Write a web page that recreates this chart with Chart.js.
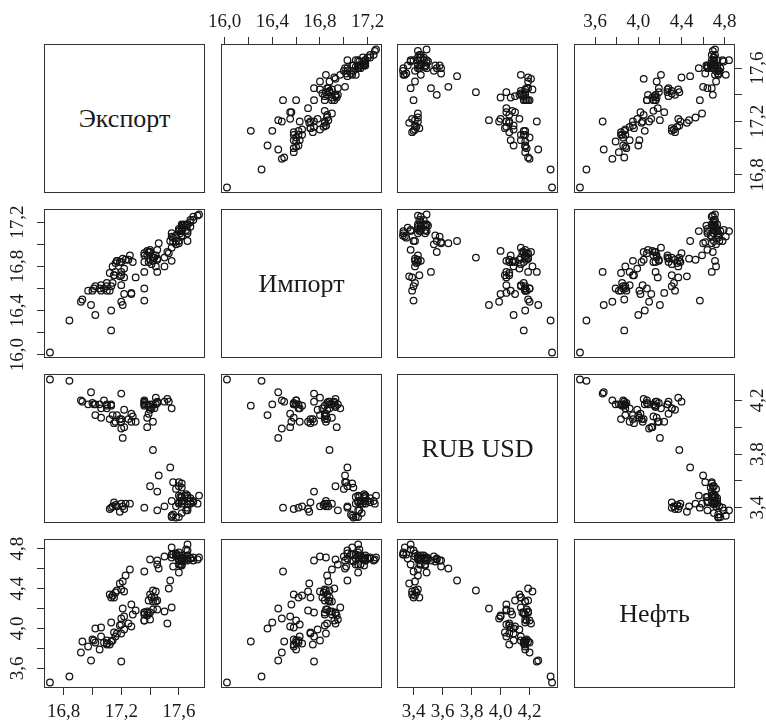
<!DOCTYPE html>
<html>
<head>
<meta charset="utf-8">
<script src="https://cdn.jsdelivr.net/npm/chart.js@4.4.1/dist/chart.umd.min.js"></script>
<style>
  html, body { margin: 0; padding: 0; background: #fff; overflow: hidden; }
  #wrap { position: relative; width: 766px; height: 720px; overflow: hidden; background: #fff; }
  #wrap canvas { position: absolute; }
  .diag {
    position: absolute; box-sizing: border-box; border: 1px solid #333;
    display: flex; align-items: center; justify-content: center;
    font: 26px "Liberation Serif", "Times New Roman", serif; color: #1a1a1a;
  }
</style>
</head>
<body>
<div id="wrap"></div>
<script>
// Variable names shown on the diagonal
const varNames = ['Экспорт', 'Импорт', 'RUB USD', 'Нефть'];

// Monthly observations, 2010–2019 (log values), twelve per line
const exportLog = [
  17.12, 17.13, 17.22, 17.19, 17.14, 17.15, 17.16, 17.17, 17.20, 17.21, 17.23, 17.26,
  17.36, 17.45, 17.56, 17.55, 17.58, 17.55, 17.60, 17.62, 17.60, 17.63, 17.62, 17.70,
  17.55, 17.66, 17.66, 17.65, 17.68, 17.60, 17.62, 17.66, 17.62, 17.70, 17.68, 17.73,
  17.50, 17.58, 17.66, 17.62, 17.60, 17.61, 17.64, 17.65, 17.62, 17.68, 17.66, 17.74,
  17.45, 17.40, 17.60, 17.62, 17.60, 17.58, 17.62, 17.56, 17.46, 17.54, 17.42, 17.38,
  17.13, 17.13, 17.27, 17.20, 17.21, 17.22, 17.20, 17.10, 17.08, 17.10, 17.05, 17.20,
  16.705, 16.84, 16.99, 16.92, 16.93, 17.00, 16.97, 17.02, 17.01, 17.06, 17.10, 17.22,
  17.02, 17.06, 17.20, 17.15, 17.16, 17.12, 17.14, 17.17, 17.19, 17.25, 17.28, 17.38,
  17.27, 17.30, 17.42, 17.39, 17.40, 17.41, 17.43, 17.45, 17.44, 17.53, 17.50, 17.52,
  17.36, 17.36, 17.45, 17.44, 17.42, 17.36, 17.40, 17.36, 17.36, 17.40, 17.39, 17.55
];
const importLog = [
  16.58, 16.62, 16.70, 16.71, 16.65, 16.72, 16.83, 16.85, 16.84, 16.87, 16.86, 16.90,
  16.49, 16.95, 17.06, 17.07, 17.08, 17.10, 17.12, 17.15, 17.14, 17.17, 17.18, 17.25,
  16.85, 17.03, 17.12, 17.13, 17.16, 17.12, 17.17, 17.18, 17.12, 17.22, 17.20, 17.26,
  16.80, 17.03, 17.10, 17.14, 17.12, 17.10, 17.18, 17.17, 17.13, 17.22, 17.18, 17.27,
  16.75, 16.93, 17.01, 17.07, 17.03, 17.00, 17.08, 17.02, 17.01, 17.03, 16.88, 16.94,
  16.22, 16.40, 16.55, 16.48, 16.45, 16.55, 16.63, 16.58, 16.60, 16.62, 16.60, 16.75,
  16.02, 16.31, 16.45, 16.48, 16.50, 16.58, 16.58, 16.62, 16.60, 16.63, 16.65, 16.78,
  16.36, 16.58, 16.72, 16.72, 16.75, 16.74, 16.80, 16.85, 16.84, 16.86, 16.84, 16.90,
  16.56, 16.70, 16.85, 16.84, 16.86, 16.82, 16.88, 16.87, 16.80, 16.92, 16.88, 16.93,
  16.60, 16.75, 16.86, 16.90, 16.88, 16.84, 16.93, 16.92, 16.90, 16.95, 16.93, 16.97
];
const rubUsd = [
  3.39, 3.40, 3.39, 3.37, 3.41, 3.44, 3.42, 3.41, 3.43, 3.41, 3.43, 3.43,
  3.40, 3.38, 3.35, 3.34, 3.327, 3.33, 3.33, 3.36, 3.43, 3.45, 3.43, 3.45,
  3.45, 3.40, 3.38, 3.38, 3.43, 3.49, 3.48, 3.47, 3.45, 3.44, 3.45, 3.43,
  3.41, 3.41, 3.43, 3.45, 3.44, 3.48, 3.49, 3.50, 3.48, 3.47, 3.49, 3.49,
  3.52, 3.56, 3.59, 3.58, 3.56, 3.54, 3.55, 3.59, 3.64, 3.70, 3.83, 4.00,
  4.16, 4.17, 4.10, 3.99, 3.92, 4.00, 4.04, 4.17, 4.20, 4.14, 4.17, 4.25,
  4.355, 4.345, 4.26, 4.20, 4.19, 4.18, 4.17, 4.17, 4.17, 4.14, 4.16, 4.13,
  4.09, 4.07, 4.06, 4.03, 4.04, 4.06, 4.09, 4.09, 4.06, 4.06, 4.08, 4.07,
  4.04, 4.04, 4.04, 4.10, 4.13, 4.14, 4.14, 4.19, 4.22, 4.19, 4.19, 4.21,
  4.20, 4.19, 4.18, 4.17, 4.17, 4.16, 4.15, 4.18, 4.17, 4.17, 4.16, 4.14
];
const oilLog = [
  4.34, 4.31, 4.37, 4.45, 4.33, 4.31, 4.36, 4.38, 4.39, 4.47, 4.53, 4.59,
  4.57, 4.64, 4.74, 4.81, 4.74, 4.74, 4.76, 4.70, 4.73, 4.70, 4.71, 4.68,
  4.71, 4.78, 4.84, 4.79, 4.70, 4.56, 4.63, 4.73, 4.73, 4.71, 4.70, 4.69,
  4.72, 4.75, 4.70, 4.64, 4.64, 4.64, 4.68, 4.70, 4.71, 4.70, 4.68, 4.71,
  4.68, 4.69, 4.68, 4.68, 4.70, 4.72, 4.67, 4.62, 4.60, 4.48, 4.38, 4.13,
  3.87, 4.06, 4.02, 4.10, 4.20, 4.12, 4.04, 3.84, 3.86, 3.88, 3.79, 3.67,
  3.46, 3.52, 3.68, 3.76, 3.87, 3.89, 3.82, 3.86, 3.88, 3.92, 3.85, 3.99,
  4.00, 4.01, 3.95, 3.96, 3.92, 3.84, 3.88, 3.95, 4.03, 4.05, 4.14, 4.17,
  4.24, 4.18, 4.19, 4.28, 4.34, 4.31, 4.31, 4.28, 4.37, 4.40, 4.17, 4.05,
  4.08, 4.16, 4.19, 4.27, 4.27, 4.16, 4.16, 4.08, 4.14, 4.09, 4.15, 4.21
];

// Tick positions for each variable
const exportTicks = [16.8, 17.0, 17.2, 17.4, 17.6];
const importTicks = [16.0, 16.2, 16.4, 16.6, 16.8, 17.0, 17.2];
const rubTicks    = [3.4, 3.6, 3.8, 4.0, 4.2];
const oilTicks    = [3.6, 3.8, 4.0, 4.2, 4.4, 4.6, 4.8];

// Labelled ticks on the outer axes (horizontal axes by column, vertical by row)
const colLabels = [[16.8, 17.2, 17.6], [16.0, 16.4, 16.8, 17.2], [3.4, 3.6, 3.8, 4.0, 4.2], [3.6, 4.0, 4.4, 4.8]];
const rowLabels = [[16.8, 17.2, 17.6], [16.0, 16.4, 16.8, 17.2], [3.4, 3.8, 4.2], [3.6, 4.0, 4.4, 4.8]];

const series = [exportLog, importLog, rubUsd, oilLog];
const tickSets = [exportTicks, importTicks, rubTicks, oilTicks];

// ---- layout of the 4x4 matrix ----
const PANEL_LEFT = [44, 221, 397, 574];
const PANEL_TOP = [44, 209, 374, 539];
const PW = 161, PH = 149;
const MARGIN = 60, AXIS = 40, TICK = 7;
const FONT_FAMILY = '"Liberation Serif", "Times New Roman", serif';
const TICK_FONT = 19;
const LABEL_DIST = { top: 22.3, bottom: 24, left: 26, right: 23.3 };
const INK = '#333333';

// value range padded by 4% on each side
function paddedRange(v) {
  const lo = Math.min(...v), hi = Math.max(...v), d = (hi - lo) * 0.04;
  return [lo - d, hi + d];
}
const ranges = series.map(paddedRange);

const fmt = v => v.toFixed(1).replace('.', ',');
const measureCtx = document.createElement('canvas').getContext('2d');
measureCtx.font = TICK_FONT + 'px ' + FONT_FAMILY;
const widest = labels => Math.max(...labels.map(v => measureCtx.measureText(fmt(v)).width));

// box round every plotting panel
const framePlugin = {
  id: 'frame',
  afterDraw(chart) {
    const a = chart.chartArea, c = chart.ctx;
    c.save();
    c.strokeStyle = INK;
    c.lineWidth = 1;
    c.strokeRect(Math.round(a.left) + 0.5, Math.round(a.top) + 0.5,
                 Math.round(a.right - a.left) - 1, Math.round(a.bottom - a.top) - 1);
    c.restore();
  }
};

function axisOptions(varIdx, horizontal, position, labels) {
  const [lo, hi] = ranges[varIdx];
  const opt = {
    type: 'linear', min: lo, max: hi,
    display: !!position,
    position: position || (horizontal ? 'bottom' : 'left')
  };
  if (!position) return opt;
  const dist = LABEL_DIST[position];
  const lineHalf = TICK_FONT * 1.2 / 2;
  Object.assign(opt, {
    afterBuildTicks: s => { s.ticks = tickSets[varIdx].map(v => ({ value: v })); },
    afterFit: s => {
      if (horizontal) s.height = AXIS; else s.width = AXIS;
      s.paddingLeft = s.paddingRight = s.paddingTop = s.paddingBottom = 0;
    },
    border: { display: false },
    grid: { display: true, drawOnChartArea: false, drawTicks: true, tickLength: TICK, color: INK, lineWidth: 1 },
    ticks: Object.assign({
      autoSkip: false,
      color: '#1a1a1a',
      font: { family: FONT_FAMILY, size: TICK_FONT },
      callback: v => labels.some(l => Math.abs(l - v) < 1e-6) ? fmt(v) : ''
    }, horizontal
      ? { minRotation: 0, maxRotation: 0, padding: dist - TICK - lineHalf }
      : { minRotation: 90, maxRotation: 90, crossAlign: 'center', padding: dist - TICK - widest(labels) / 2 })
  });
  return opt;
}

const wrap = document.getElementById('wrap');

for (let i = 0; i < 4; i++) {
  for (let j = 0; j < 4; j++) {
    if (i === j) {
      const d = document.createElement('div');
      d.className = 'diag';
      d.style.left = PANEL_LEFT[j] + 'px';
      d.style.top = PANEL_TOP[i] + 'px';
      d.style.width = PW + 'px';
      d.style.height = PH + 'px';
      d.textContent = varNames[i];
      wrap.appendChild(d);
      continue;
    }
    // outer axes: columns alternate bottom/top, rows alternate right/left
    let xPos = null, yPos = null;
    if (i === 3 && j % 2 === 0) xPos = 'bottom';
    if (i === 0 && j % 2 === 1) xPos = 'top';
    if (j === 0 && i % 2 === 1) yPos = 'left';
    if (j === 3 && i % 2 === 0) yPos = 'right';

    const cv = document.createElement('canvas');
    const w = PW + 2 * MARGIN, h = PH + 2 * MARGIN;
    cv.width = w; cv.height = h;
    cv.style.width = w + 'px'; cv.style.height = h + 'px';
    cv.style.left = (PANEL_LEFT[j] - MARGIN) + 'px';
    cv.style.top = (PANEL_TOP[i] - MARGIN) + 'px';
    wrap.appendChild(cv);

    const pts = series[j].map((xv, k) => ({ x: xv, y: series[i][k] }));

    new Chart(cv, {
      type: 'scatter',
      data: {
        datasets: [{
          data: pts,
          pointStyle: 'circle',
          pointRadius: 3.3,
          pointBorderWidth: 1.25,
          pointBorderColor: '#141414',
          pointBackgroundColor: 'rgba(0,0,0,0)',
          showLine: false
        }]
      },
      options: {
        responsive: false,
        animation: false,
        devicePixelRatio: 1,
        events: [],
        layout: {
          autoPadding: false,
          padding: {
            left: MARGIN - (yPos === 'left' ? AXIS : 0),
            right: MARGIN - (yPos === 'right' ? AXIS : 0),
            top: MARGIN - (xPos === 'top' ? AXIS : 0),
            bottom: MARGIN - (xPos === 'bottom' ? AXIS : 0)
          }
        },
        plugins: { legend: { display: false }, tooltip: { enabled: false } },
        scales: {
          x: axisOptions(j, true, xPos, colLabels[j]),
          y: axisOptions(i, false, yPos, rowLabels[i])
        }
      },
      plugins: [framePlugin]
    });
  }
}
</script>
</body>
</html>
